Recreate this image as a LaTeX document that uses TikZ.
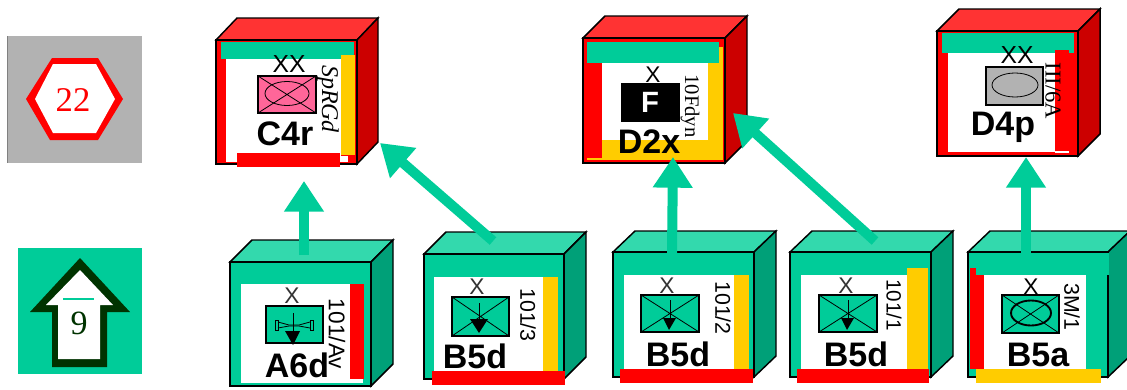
\documentclass[tikz,border=0pt]{standalone}
\usepackage{fontspec}
\setmainfont{Liberation Sans}
\newfontfamily\serf{Liberation Serif}
\usetikzlibrary{calc,fit,arrows.meta}
\definecolor{grn}{HTML}{00CC99}
\definecolor{grntop}{HTML}{33D9AD}
\definecolor{grnside}{HTML}{00A078}
\definecolor{rd}{HTML}{FF0000}
\definecolor{rdtop}{HTML}{FF3333}
\definecolor{rdside}{HTML}{CC0000}
\definecolor{yel}{HTML}{FFCC00}
\definecolor{gry}{HTML}{B2B2B2}
\definecolor{pnk}{HTML}{FF6699}
\definecolor{dgrn}{HTML}{003300}
\newcommand{\fpx}[1]{\fontsize{#1}{#1}\selectfont}
% name, x0,y0,x1,y1, dx,dy, colour family
\newcommand{\mkcube}[8]{%
  \path[fill=#8top,draw=black,edge] (#2,#3) -- ++(#6,#7) -- (#4+#6,#3+#7) -- (#4,#3) -- cycle;
  \path[fill=#8side,draw=black,edge] (#4,#3) -- (#4+#6,#3+#7) -- (#4+#6,#5+#7) -- (#4,#5) -- cycle;
  \node[fit={(#2,#3)(#4,#5)},inner sep=0pt,outer sep=0pt,fill=#8,draw=black,edge] (#1) {};
}
\tikzset{
  edge/.style={line width=1.1pt,line join=miter},
  link/.style={draw=grn,line width=7.5pt,-{Triangle[width=28.5pt,length=23pt]}},
  mainlabel/.style={font=\fpx{25.5pt}\bfseries,anchor=base,inner sep=0pt},
  sidesans/.style={font=\fpx{16pt},rotate=-90,inner sep=0pt},
  sideserif/.style={font=\fpx{17pt}\serf,rotate=-90,inner sep=0pt},
  echelon/.style={font=\fpx{17pt},inner sep=0pt,text=black!80},
  symb/.style={draw=black,line width=0.9pt},
  thin line/.style={draw=black,line width=0.6pt},
}
\begin{document}
\begin{tikzpicture}[x=0.75pt,y=-0.75pt]
\clip (0,0) rectangle (1127,389);
% legend boxes
\fill[gry] (7,36) rectangle (142,163);
\draw[black!50,line width=0.8pt] (7.5,36) -- (7.5,163);
\fill[rd] (26,99) -- (52,58) -- (98,58) -- (123,99) -- (98,140) -- (50,140) -- cycle;
\fill[white] (35,99) -- (53,64) -- (96,64) -- (115,99) -- (96,133) -- (53,133) -- cycle;
\node[font=\fpx{26pt}\serf,text=rd,inner sep=0pt] (n22) at (73,100) {22};
\fill[grn] (18,248) rectangle (142,374);
\fill[dgrn] (80,258) -- (130,312) -- (107,312) -- (107,367) -- (52,367) -- (52,312) -- (30,312) -- cycle;
\fill[white] (80,270) -- (113,305) -- (100,305) -- (100,359) -- (58,359) -- (58,305) -- (46,305) -- cycle;
\draw[grn,line width=0.9pt] (63,299) -- (94,299);
\node[font=\fpx{25.5pt}\serf,text=dgrn,inner sep=0pt] (n9) at (79,323) {9};

% C4r
\mkcube{C4r}{216}{40}{357}{164}{21}{-22}{rd}
\fill[grn] (221,42) rectangle (354,59);
\fill[white] (226,59) rectangle (341,162);
\fill[yel] (341,55) rectangle (355,155);
\fill[white] (341,156) rectangle (348,162);
\fill[rd] (237,153) rectangle (340,167);
\draw[symb,fill=pnk] (258,76) rectangle (316,113);
\draw[thin line] (258,76) -- (316,113) (258,113) -- (316,76);
\draw[thin line] (287,93.5) ellipse [x radius=22,y radius=12];
\node[echelon,font=\fpx{18.5pt},text=black] (C4r-e) at (289,64.5) {XX};
\node[sideserif,font=\fpx{18pt}\serf\itshape] (C4r-s) at (328,99) {SpRGd};
\node[mainlabel] (C4r-l) at (285,145) {C4r};

% D2x
\mkcube{D2x}{583}{38}{725}{163}{22}{-22}{rd}
\fill[yel] (587,47) rectangle (723,160);
\fill[grn] (587,42) rectangle (719,63);
\fill[rd] (587,63) rectangle (602,158);
\fill[white] (602,63) rectangle (708,140);
\fill[black] (621,83) rectangle (680,122);
\node[font=\fpx{22pt}\bfseries,text=white,inner sep=0pt] (D2x-f) at (650,102) {F};
\node[echelon,font=\fpx{17pt},text=black] (D2x-e) at (653,75) {X};
\node[sideserif,font=\fpx{15.5pt}\serf] (D2x-s) at (690,106) {10Fdyn};
\node[mainlabel] (D2x-l) at (649,153) {D2x};

% D4p
\mkcube{D4p}{937}{31}{1078}{156}{22}{-22}{rd}
\fill[grn] (942,33) rectangle (1074,53);
\fill[white] (948,53) rectangle (1055,152);
\fill[rd] (1055,50) rectangle (1069,53);
\fill[white] (1055,151) rectangle (1069,153);
\draw[symb,fill=gry] (986,67) rectangle (1043,105);
\draw[thin line] (1015,85) ellipse [x radius=23,y radius=12];
\node[echelon,font=\fpx{18.5pt},text=black] (D4p-e) at (1017,55.5) {XX};
\node[sideserif,font=\fpx{17pt}\serf] (D4p-s) at (1053,91) {III/6A};
\node[mainlabel] (D4p-l) at (1003,135) {D4p};

% A6d
\mkcube{A6d}{230}{262}{371}{386}{22}{-22}{grn}
\fill[white] (241,284) rectangle (363,383);
\fill[rd] (350,284) rectangle (364,379);
\draw[symb,fill=grn] (266,306) rectangle (323,343);
\draw[thin line] (293,313) -- (293,332);
\fill[black] (285,331) -- (300,331) -- (293,345) -- cycle;
\draw[thin line] (278,320) -- (275,320) -- (275,330) -- (278,330) -- cycle;
\draw[thin line] (310,320) -- (313,320) -- (313,330) -- (310,330) -- cycle;
\draw[thin line] (278,322) -- (289,325) -- (299,325) -- (310,322);
\draw[thin line] (278,328) -- (289,326) -- (299,326) -- (310,328);
\node[echelon] (A6d-e) at (292,296) {X};
\node[sidesans,font=\fpx{17pt}] (A6d-s) at (337,334) {101/Av};
\node[mainlabel] (A6d-l) at (297,377) {A6d};

% B5d /3
\mkcube{B5dc}{424}{254}{564}{379}{22}{-22}{grn}
\fill[white] (434,277) rectangle (543,371);
\fill[yel] (543,277) rectangle (558,371);
\fill[rd] (432,371) rectangle (565,385);
\draw[symb,fill=grn] (452,297) rectangle (509,336);
\draw[thin line] (452,297) -- (509,336) (452,336) -- (509,297);
\draw[thin line] (479,303) -- (479,325);
\fill[black] (470,319) -- (488,319) -- (479,333) -- cycle;
\node[echelon] (B5dc-e) at (477,287) {X};
\node[sidesans] (B5dc-s) at (528,315) {101/3};
\node[mainlabel] (B5dc-l) at (475,368) {B5d};

% B5d /2
\mkcube{B5db}{613}{252}{754}{377}{22}{-21}{grn}
\fill[white] (624,275) rectangle (734,369);
\fill[yel] (734,275) rectangle (749,369);
\fill[rd] (620,369) rectangle (753,383);
\draw[symb,fill=grn] (641,295) rectangle (699,332);
\draw[thin line] (641,295) -- (699,332) (641,332) -- (699,295);
\draw[thin line] (670,300) -- (670,320);
\fill[black] (663,318) -- (676,318) -- (669,330) -- cycle;
\node[echelon] (B5db-e) at (667,285.5) {X};
\node[sidesans] (B5db-s) at (723,308) {101/2};
\node[mainlabel] (B5db-l) at (678,366) {B5d};

% B5d /1
\mkcube{B5da}{790}{252}{931}{377}{22}{-21}{grn}
\fill[white] (801,275) rectangle (907,369);
\fill[yel] (907,268) rectangle (928,369);
\fill[rd] (797,369) rectangle (929,383);
\draw[symb,fill=grn] (819,295) rectangle (877,332);
\draw[thin line] (819,295) -- (877,332) (819,332) -- (877,295);
\draw[thin line] (848,300) -- (848,320);
\fill[black] (841,318) -- (854,318) -- (847,330) -- cycle;
\node[echelon] (B5da-e) at (846,285.5) {X};
\node[sidesans,font=\fpx{15.5pt}] (B5da-s) at (894,305) {101/1};
\node[mainlabel] (B5da-l) at (856,366) {B5d};

% B5a
\mkcube{B5a}{968}{252}{1108}{377}{22}{-21}{grn}
\fill[grn] (1107,253) rectangle (1109,275);
\fill[white] (984,275) rectangle (1086,369);
\fill[rd] (970,268) rectangle (976,369);
\fill[rd] (976,275) rectangle (984,369);
\fill[yel] (976,369) rectangle (1101,383);
\draw[symb,fill=grn] (1002,295) rectangle (1059,333);
\draw[thin line] (1002,295) -- (1059,333) (1002,333) -- (1059,295);
\draw[black,line width=1.4pt] (1031,313) ellipse [x radius=20,y radius=12.5];
\node[echelon,font=\fpx{17pt},text=black] (B5a-e) at (1031,286.5) {X};
\node[sidesans] (B5a-s) at (1072,307) {3M/1};
\node[mainlabel] (B5a-l) at (1038,366) {B5a};

% connectors
\draw[link] ($(A6d.center)+(3.5,-69)$) -- ($(C4r.center)+(17.5,79)$);
\draw[link] ($(B5dc.center)+(-1,-75.5)$) -- ($(C4r.center)+(93.5,41)$);
\draw[link] ($(B5db.center)+(-11.5,-61.5)$) -- ($(D2x.center)+(19,56.5)$);
\draw[link] ($(B5da.center)+(14.5,-73.5)$) -- ($(D2x.center)+(79,12.5)$);
\draw[link] ($(B5a.center)+(-12,-61.5)$) -- ($(D4p.center)+(18.5,63.5)$);
\end{tikzpicture}
\end{document}
